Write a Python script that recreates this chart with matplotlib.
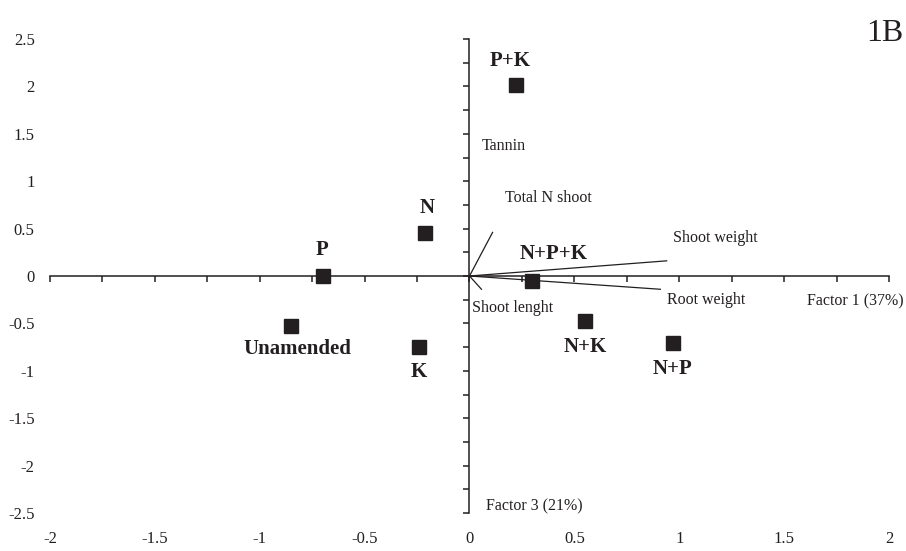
import numpy as np
import matplotlib.pyplot as plt

plt.rcParams['font.family'] = ['Liberation Serif', 'DejaVu Serif']

# treatment scores (factor 1 vs factor 3)
treatments = ["P+K", "N", "P", "Unamended", "K", "N+P+K", "N+K", "N+P"]
f1 = [0.22, -0.21, -0.70, -0.85, -0.24, 0.30, 0.55, 0.97]
f3 = [2.01, 0.45, 0.00, -0.53, -0.75, -0.05, -0.47, -0.71]
# label positions for the treatments
lab_x = [0.195, -0.20, -0.705, -0.82, -0.24, 0.40, 0.55, 0.97]
lab_y = [2.27, 0.72, 0.27, -0.77, -1.01, 0.23, -0.75, -0.98]

# variable loadings (vectors from origin)
vec_x = [0.94, 0.91, 0.11, 0.057]
vec_y = [0.16, -0.14, 0.46, -0.14]

# variable names and their text anchors
var_names = ["Tannin", "Total N shoot", "Shoot weight", "Root weight", "Shoot lenght"]
var_x = [0.06, 0.17, 0.97, 0.94, 0.01]
var_y = [1.37, 0.82, 0.40, -0.25, -0.34]

xticks = np.arange(-2, 2.01, 0.5)
yticks = np.arange(-2.5, 2.51, 0.5)
col = "#231f20"

fig = plt.figure(figsize=(9.06, 5.51), dpi=100)
rect = [50/906, 38/551, 839/906, 474/551]

# labels on the outer edge
ax2 = fig.add_axes(rect, frameon=False)
ax2.set_xlim(-2, 2)
ax2.set_ylim(-2.5, 2.5)
ax2.set_xticks(xticks)
ax2.set_yticks(yticks)
ax2.set_xticklabels([f"{v:g}" for v in xticks])
ax2.set_yticklabels([f"{v:g}" for v in yticks])
ax2.tick_params(length=0, labelsize=12, labelcolor=col)
ax2.tick_params(axis='x', pad=13)
ax2.tick_params(axis='y', pad=11)

# axes crossing at the origin
ax = fig.add_axes(rect, sharex=ax2, sharey=ax2)
ax.patch.set_visible(False)
for s in ["top", "right"]:
    ax.spines[s].set_visible(False)
ax.spines["left"].set_position("zero")
ax.spines["bottom"].set_position("zero")
ax.spines["left"].set_linewidth(1.1)
ax.spines["bottom"].set_linewidth(1.1)
ax.spines["left"].set_color(col)
ax.spines["bottom"].set_color(col)
ax.set_xticks(np.arange(-2, 2.01, 0.25))
ax.set_yticks(np.arange(-2.5, 2.51, 0.25))
ax.tick_params(direction="out", length=4, width=1.1, color=col,
               labelbottom=False, labelleft=False)
ax.set_xlim(-2, 2)
ax.set_ylim(-2.5, 2.5)

for x, y in zip(vec_x, vec_y):
    ax.plot([0, x], [0, y], color=col, lw=0.9)

ax.plot(f1, f3, 's', color=col, markersize=10, clip_on=False)

for name, x, y in zip(treatments, lab_x, lab_y):
    ax.text(x, y, name, ha="center", va="center", fontsize=15,
            fontweight="bold", color=col)

for name, x, y in zip(var_names, var_x, var_y):
    ax.text(x, y, name, ha="left", va="center", fontsize=11.5, color=col)

ax.text(2.07, -0.27, "Factor 1 (37%)", ha="right", va="center", fontsize=11.5, color=col)
ax.text(0.08, -2.43, "Factor 3 (21%)", ha="left", va="center", fontsize=11.5, color=col)

fig.text(0.997, 0.94, "1B", ha="right", va="center", fontsize=23, color=col)

fig.savefig("out.png", dpi=100)
